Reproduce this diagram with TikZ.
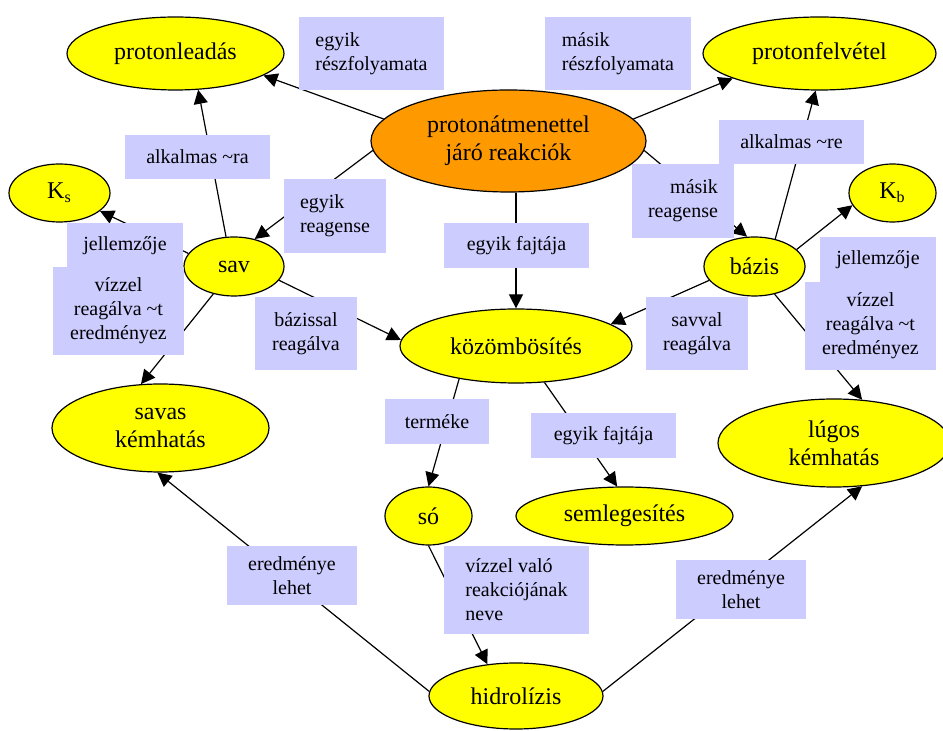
\documentclass[tikz,border=0pt]{standalone}
\usepackage{fontspec}
\setmainfont{Liberation Serif}
\usetikzlibrary{shapes.geometric}
\usetikzlibrary{arrows.meta}
\definecolor{bubblefill}{RGB}{255,255,0}
\definecolor{mainfill}{RGB}{255,153,0}
\definecolor{tagfill}{RGB}{204,204,255}
\tikzset{
    bubble/.style={
           ellipse,
           draw=black, line width=0.6pt,
           fill=bubblefill,
           inner sep=0pt,
           align=center,
           font=\fontsize{12}{14}\selectfont,
           },
    mainbubble/.style={
           bubble,
           fill=mainfill,
           },
    tag/.style={
           rectangle,
           fill=tagfill,
           inner sep=0pt,
           align=center,
           font=\fontsize{10}{12}\selectfont,
           },
    link/.style={
           -{Triangle[length=7pt,width=7pt]},
           line width=0.6pt,
           },
    plain/.style={
           -,
           line width=0.6pt,
           },
}
\begin{document}
\begin{tikzpicture}[x=0.5pt, y=-0.5pt]
	\useasboundingbox (0,0) rectangle (943,731);

	% fogalmak
	\node[mainbubble, minimum width=137.5pt, minimum height=51pt] (reakcio) at (508.5,141) {protonátmenettel\\járó reakciók};
	\node[bubble, minimum width=108.5pt, minimum height=36.5pt] (leadas) at (175.5,53.5) {protonleadás};
	\node[bubble, minimum width=116.5pt, minimum height=36.5pt] (felvetel) at (819.5,53.5) {protonfelvétel};
	\node[bubble, minimum width=50.5pt, minimum height=29pt] (ks) at (59.5,193) {K\textsubscript{s}};
	\node[bubble, minimum width=43.5pt, minimum height=29pt] (kb) at (892.5,193) {K\textsubscript{b}};
	\node[bubble, minimum width=50pt, minimum height=29.5pt] (sav) at (234,266.5) {sav};
	\node[bubble, minimum width=50.5pt, minimum height=29.5pt] (bazis) at (754.5,266.5) {bázis};
	\node[bubble, minimum width=116pt, minimum height=37pt] (kozomb) at (516,346) {közömbösítés};
	\node[bubble, minimum width=108.5pt, minimum height=44pt] (savas) at (160.5,428) {savas\\kémhatás};
	\node[bubble, minimum width=116pt, minimum height=44pt] (lugos) at (834,443) {lúgos\\kémhatás};
	\node[bubble, minimum width=43.5pt, minimum height=29pt] (so) at (428.5,516) {só};
	\node[bubble, minimum width=108.5pt, minimum height=29pt] (semleg) at (624.5,516) {semlegesítés};
	\node[bubble, minimum width=87pt, minimum height=33pt] (hidro) at (516,696) {hidrolízis};

	% kapcsolatok
	\draw[link] (reakcio.170) -- (leadas.-14);
	\draw[link] (reakcio.10.5) -- (felvetel.196);
	\draw[link] (sav.105) -- (leadas.-58);
	\draw[link] (bazis.53) -- (felvetel.-96);
	\draw[link] (reakcio.184) -- (sav.53);
	\draw[link] (reakcio.-4) -- (bazis.104);
	\draw[link] (reakcio.south -| kozomb.north) -- (kozomb.north);
	\draw[link] (sav.164) -- (ks.-24);
	\draw[link] (bazis.22) -- (kb.197);
	\draw[link] (sav.233) -- (savas.114.5);
	\draw[link] (bazis.-54) -- (lugos.57);
	\draw[link] (sav.-17.5) -- (kozomb.177);
	\draw[link] (bazis.197) -- (kozomb.13);
	\draw[link] (kozomb.210) -- (so.north);
	\draw[link] (kozomb.-52) -- (semleg.104);
	\draw[link] (so.south) -- (hidro.132);
	\draw[link] (hidro.177) -- (savas.-94);
	\draw[link] (hidro.3) -- (lugos.-57);

	% feliratok
	\node[tag, minimum width=72.5pt, minimum height=36.5pt, align=left] (t1) at (371.5,53.5) {egyik\\részfolyamata};
	\node[tag, minimum width=73pt, minimum height=36.5pt, align=left] (t2) at (618,53.5) {másik\\részfolyamata};
	\node[tag, minimum width=72.5pt, minimum height=22pt] (t3) at (197.5,157) {alkalmas \textasciitilde ra};
	\node[tag, minimum width=51pt, minimum height=37pt, align=left] (t4) at (335,216) {egyik\\reagense};
	\node[tag, minimum width=72.5pt, minimum height=22.5pt] (t5) at (516.5,245.5) {egyik fajtája};
	\node[tag, minimum width=72.5pt, minimum height=22pt] (t6) at (791.5,142) {alkalmas \textasciitilde re};
	\node[tag, minimum width=51pt, minimum height=37pt, align=right] (t7) at (683,201) {másik\\reagense};
	\node[tag, minimum width=58pt, minimum height=22.5pt] (t8) at (125,245.5) {jellemzője};
	\node[tag, minimum width=65.5pt, minimum height=44pt] (t9) at (118.5,311) {vízzel\\reagálva \textasciitilde t\\eredményez};
	\node[tag, minimum width=51pt, minimum height=36.5pt] (t10) at (306,333.5) {bázissal\\reagálva};
	\node[tag, minimum width=51pt, minimum height=36.5pt] (t11) at (697,333.5) {savval\\reagálva};
	\node[tag, minimum width=58pt, minimum height=22.5pt] (t12) at (878,259.5) {jellemzője};
	\node[tag, minimum width=65.5pt, minimum height=44pt] (t13) at (870.5,326) {vízzel\\reagálva \textasciitilde t\\eredményez};
	\node[tag, minimum width=52pt, minimum height=22.5pt] (t14) at (437,421.5) {terméke};
	\node[tag, minimum width=72.5pt, minimum height=22.5pt] (t15) at (603.5,435.5) {egyik fajtája};
	\node[tag, minimum width=65pt, minimum height=29.5pt] (t16) at (292,575.5) {eredménye\\lehet};
	\node[tag, minimum width=72.5pt, minimum height=44pt, align=left] (t17) at (516.5,590) {vízzel való\\reakciójának\\neve};
	\node[tag, minimum width=65pt, minimum height=29.5pt] (t18) at (741,589.5) {eredménye\\lehet};
\end{tikzpicture}
\end{document}
